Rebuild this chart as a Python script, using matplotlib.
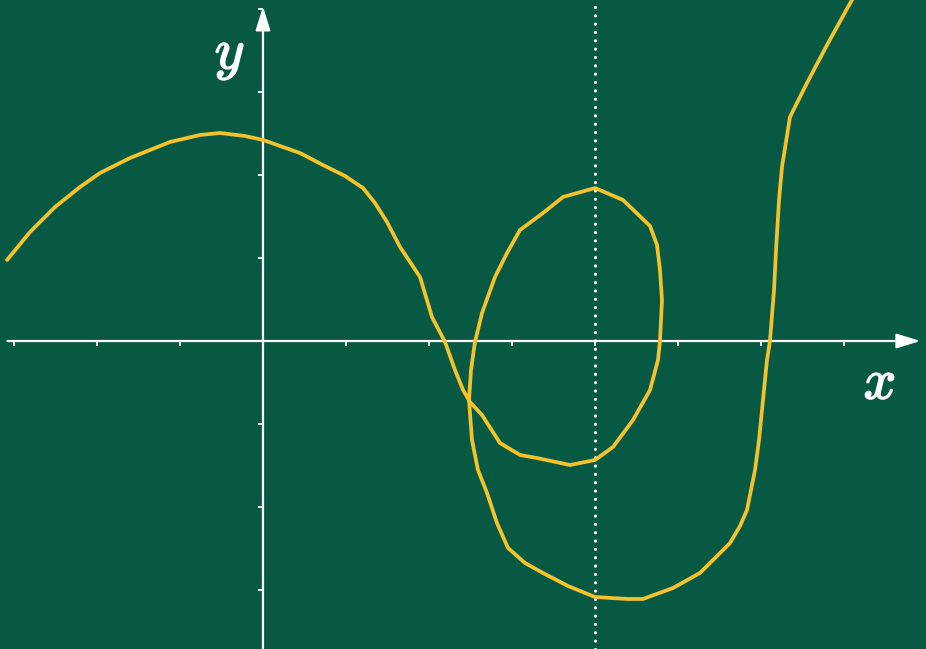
import numpy as np
import matplotlib.pyplot as plt
import matplotlib.patheffects as pe

# --- STYLE ---
plt.rcParams['mathtext.fontset'] = 'cm'
BG = '#085943'
CURVE = '#F4C22B'
WHITE = '#FFFFFF'

# --- CURVE (grid units, one tick = 1) ---
curve_x = [-3.084, -2.807, -2.506, -2.205, -1.964, -1.602, -1.361, -1.120, -0.759, -0.518,
           -0.217, 0.000, 0.446, 0.723, 0.988, 1.205, 1.349, 1.494, 1.651, 1.892,
           2.036, 2.193, 2.313, 2.410, 2.494, 2.639, 2.855, 3.096, 3.301, 3.699,
           4.000, 4.217, 4.458, 4.663, 4.759, 4.783, 4.807, 4.783, 4.747, 4.663,
           4.337, 4.000, 3.614, 3.373, 3.096, 2.940, 2.795, 2.639, 2.554, 2.506,
           2.482, 2.518, 2.590, 2.699, 2.819, 2.952, 3.157, 3.373, 3.675, 4.000,
           4.386, 4.578, 4.940, 5.265, 5.627, 5.747, 5.831, 5.928, 5.976, 6.024,
           6.072, 6.108, 6.157, 6.181, 6.217, 6.253, 6.349, 6.554, 6.795, 7.048,
           7.145]
curve_y = [0.976, 1.313, 1.614, 1.855, 2.024, 2.205, 2.301, 2.398, 2.482, 2.506,
           2.470, 2.422, 2.265, 2.120, 1.988, 1.843, 1.663, 1.434, 1.133, 0.771,
           0.289, -0.012, -0.349, -0.590, -0.735, -0.892, -1.229, -1.373, -1.410, -1.494,
           -1.434, -1.277, -0.952, -0.590, -0.229, 0.000, 0.494, 0.855, 1.157, 1.386,
           1.699, 1.843, 1.735, 1.542, 1.337, 1.060, 0.771, 0.337, -0.012, -0.349,
           -0.711, -1.193, -1.554, -1.831, -2.193, -2.494, -2.675, -2.795, -2.952, -3.084,
           -3.108, -3.108, -2.976, -2.795, -2.434, -2.229, -2.036, -1.554, -1.193, -0.711,
           -0.229, 0.000, 0.614, 1.096, 1.699, 2.096, 2.699, 3.108, 3.566, 4.024,
           4.193]

tick_x = [-3, -2, -1, 1, 2, 3, 4, 5, 6, 7]
tick_y = [-3, -2, -1, 1, 2, 3, 4]
marked_x = 4

# --- FIGURE ---
fig = plt.figure(figsize=(9.26, 6.49), dpi=100)
fig.patch.set_facecolor(BG)
ax = fig.add_axes([0, 0, 1, 1])
ax.set_facecolor(BG)
ax.set_xlim(-263 / 83, 663 / 83)
ax.set_ylim(-308 / 83, 341 / 83)
ax.axis('off')

# axes with arrowheads
head = '-|>,head_length=1.45,head_width=0.45'
ax.annotate('', xy=(7.92, 0), xytext=(-3.08, 0),
            arrowprops=dict(arrowstyle=head, color=WHITE, lw=1.6, shrinkA=0, shrinkB=0))
ax.annotate('', xy=(0, 4.03), xytext=(0, -3.71),
            arrowprops=dict(arrowstyle=head, color=WHITE, lw=1.6, shrinkA=0, shrinkB=0))

# tick marks
for t in tick_x:
    ax.plot([t, t], [0, -0.06], color=WHITE, lw=1.3, solid_capstyle='butt')
for t in tick_y:
    ax.plot([0, -0.06], [t, t], color=WHITE, lw=1.3, solid_capstyle='butt')

# dotted marker line
ax.axvline(marked_x, color=WHITE, lw=2.3, linestyle=(0, (0.01, 2.6)),
           dash_capstyle='round')

# curve
ax.plot(curve_x, curve_y, color=CURVE, lw=2.7, solid_joinstyle='round',
        solid_capstyle='round', zorder=5)

# axis names
stroke = [pe.withStroke(linewidth=1.2, foreground=WHITE)]
ax.text(7.43, -0.51, r'$x$', color=WHITE, fontsize=41, ha='center', va='center',
        path_effects=stroke)
ax.text(-0.40, 3.45, r'$y$', color=WHITE, fontsize=41, ha='center', va='center',
        path_effects=stroke)

fig.savefig('out.png', dpi=100, facecolor=BG)
